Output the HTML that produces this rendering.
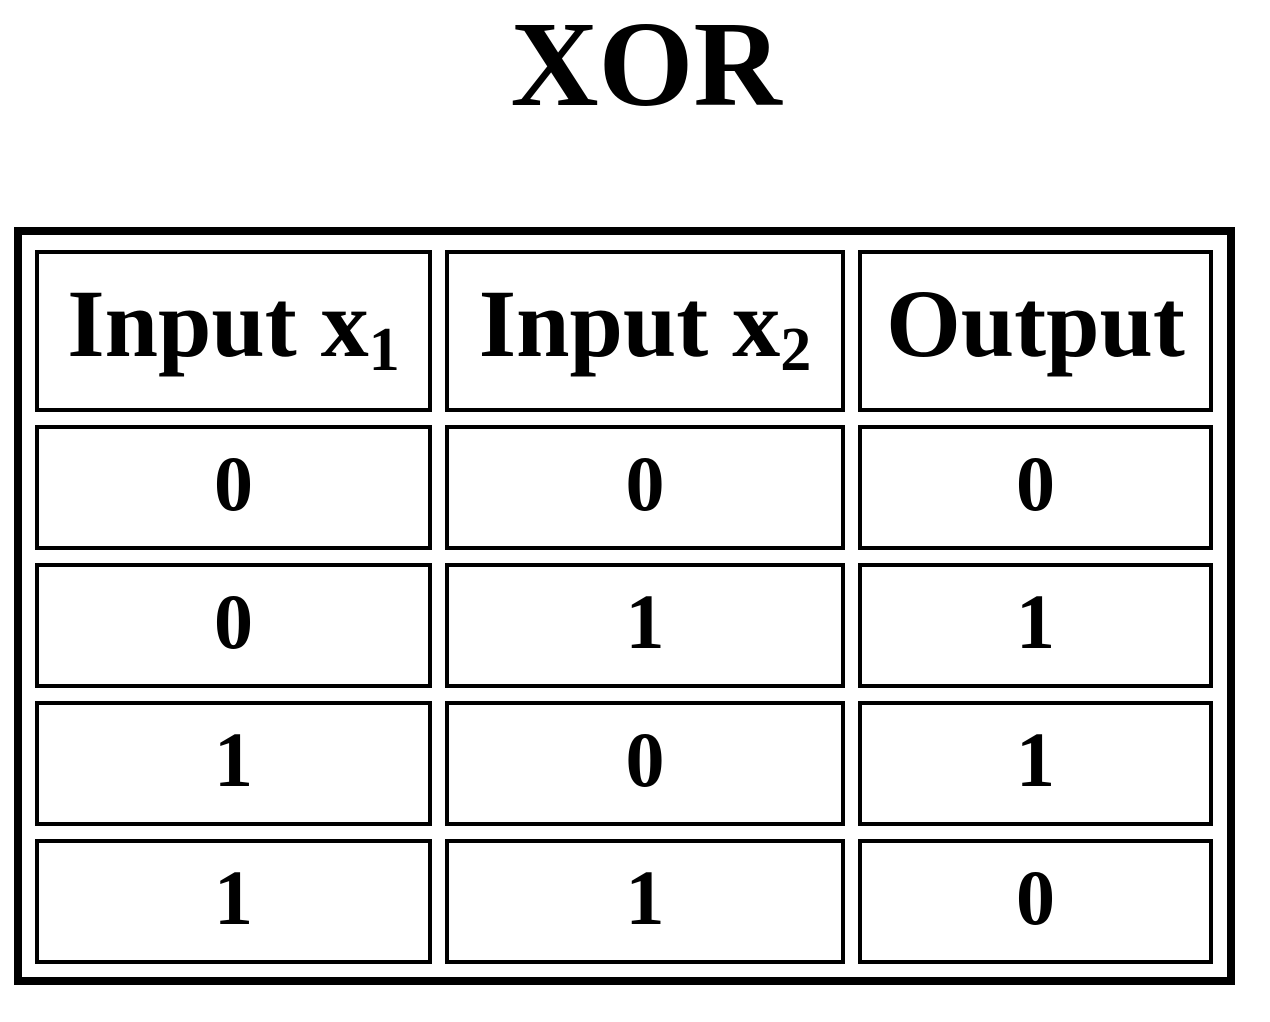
<!DOCTYPE html>
<html><head><meta charset="utf-8"><style>
body{margin:0;width:1270px;height:1022px;background:#fff;position:relative;overflow:hidden;font-family:"Liberation Serif",serif;font-weight:bold;color:#000}
.t{position:absolute;left:0;width:1270px;top:4px;text-align:center;font-size:122px;line-height:122px;padding-left:22px;box-sizing:border-box}
.o{position:absolute;left:14px;top:227px;width:1221px;height:758px;border:8px solid #000;box-sizing:border-box}
.c{position:absolute;border:4px solid #000;box-sizing:border-box;display:flex;align-items:center;justify-content:center}
.c span{display:block;position:relative;white-space:nowrap}
.h{font-size:96px}
.h span{top:-8px}
.d{font-size:78px}
.d span{top:-4px}
sub{font-size:62px;position:relative;top:14px;vertical-align:baseline;line-height:0}
</style></head><body>
<div class="t">XOR</div>
<div class="o"></div>
<div class="c h" style="left:35px;top:250px;width:397px;height:162px"><span>Input x<sub>1</sub></span></div>
<div class="c h" style="left:445px;top:250px;width:400px;height:162px"><span>Input x<sub>2</sub></span></div>
<div class="c h" style="left:858px;top:250px;width:355px;height:162px"><span>Output</span></div>

<div class="c d" style="left:35px;top:425px;width:397px;height:125px"><span>0</span></div>
<div class="c d" style="left:445px;top:425px;width:400px;height:125px"><span>0</span></div>
<div class="c d" style="left:858px;top:425px;width:355px;height:125px"><span>0</span></div>

<div class="c d" style="left:35px;top:563px;width:397px;height:125px"><span>0</span></div>
<div class="c d" style="left:445px;top:563px;width:400px;height:125px"><span>1</span></div>
<div class="c d" style="left:858px;top:563px;width:355px;height:125px"><span>1</span></div>

<div class="c d" style="left:35px;top:701px;width:397px;height:125px"><span>1</span></div>
<div class="c d" style="left:445px;top:701px;width:400px;height:125px"><span>0</span></div>
<div class="c d" style="left:858px;top:701px;width:355px;height:125px"><span>1</span></div>

<div class="c d" style="left:35px;top:839px;width:397px;height:125px"><span>1</span></div>
<div class="c d" style="left:445px;top:839px;width:400px;height:125px"><span>1</span></div>
<div class="c d" style="left:858px;top:839px;width:355px;height:125px"><span>0</span></div>
</body></html>
